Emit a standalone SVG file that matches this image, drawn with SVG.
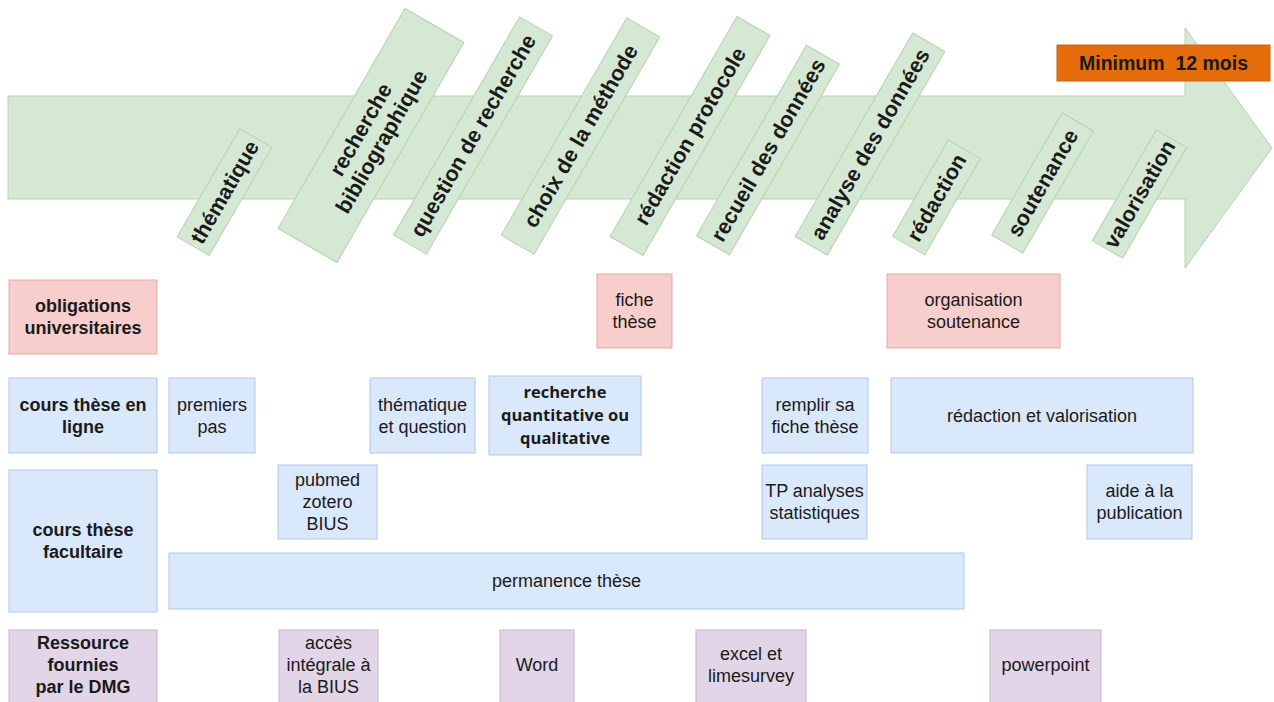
<svg xmlns="http://www.w3.org/2000/svg" width="1274" height="702" viewBox="0 0 1274 702">
<style>
text{font-family:"Liberation Sans",Arial,sans-serif;fill:#1a1a1a;text-anchor:middle}
.r{font-size:18px}
.b{font-size:18px;font-weight:bold}
.rot{font-size:21.5px;font-weight:bold}
.g{fill:#d5e8d4;stroke:#b4d4ab;stroke-width:1}
.p{fill:#f8cecc;stroke:#e3a9a7;stroke-width:1}
.bl{fill:#dae8fc;stroke:#b3c8e6;stroke-width:1}
.v{fill:#e1d5e7;stroke:#c9b3d4;stroke-width:1}
.os{font-family:"Open Sans","Liberation Sans",sans-serif;font-size:16.5px;font-weight:bold}
</style>
<rect width="1274" height="702" fill="#ffffff"/>
<g id="timeline-arrow">
<polygon class="g" points="8,96 1185,96 1185,28 1272,148 1185,268 1185,199 8,199"/>
</g>
<g id="duration">
<rect x="1057" y="45" width="213" height="36" fill="#e46c0a" stroke="#d0620a"/>
<text x="1163.5" y="70" style="font-size:19.5px;font-weight:bold;white-space:pre">Minimum  12 mois</text>
</g>
<g id="step-thematique" transform="translate(224.5,192) rotate(-60)">
<rect class="g" x="-62.5" y="-18.5" width="125" height="37"/>
<text class="rot" y="7.5">thématique</text>
</g>
<g id="step-biblio" transform="translate(371,135.5) rotate(-60)">
<rect class="g" x="-127" y="-34" width="254" height="68"/>
<text class="rot" y="-4.5">recherche</text>
<text class="rot" y="19.5">bibliographique</text>
</g>
<g id="step-question" transform="translate(473,135.5) rotate(-60)">
<rect class="g" x="-126" y="-19" width="252" height="38"/>
<text class="rot" y="7.5">question de recherche</text>
</g>
<g id="step-methode" transform="translate(580.5,136) rotate(-60)">
<rect class="g" x="-125.5" y="-19" width="251" height="38"/>
<text class="rot" y="7.5">choix de la méthode</text>
</g>
<g id="step-protocole" transform="translate(690,136) rotate(-60)">
<rect class="g" x="-127" y="-19" width="254" height="38"/>
<text class="rot" y="7.5">rédaction protocole</text>
</g>
<g id="step-recueil" transform="translate(768,150) rotate(-60)">
<rect class="g" x="-110" y="-19" width="220" height="38"/>
<text class="rot" y="7.5">recueil des données</text>
</g>
<g id="step-analyse" transform="translate(870,144) rotate(-60)">
<rect class="g" x="-117.5" y="-18.5" width="235" height="37"/>
<text class="rot" y="7.5">analyse des données</text>
</g>
<g id="step-redaction" transform="translate(936.5,197.5) rotate(-60)">
<rect class="g" x="-55.5" y="-18.5" width="111" height="37"/>
<text class="rot" y="7.5">rédaction</text>
</g>
<g id="step-soutenance" transform="translate(1042.5,183) rotate(-60)">
<rect class="g" x="-70.5" y="-18" width="141" height="36"/>
<text class="rot" y="7.5">soutenance</text>
</g>
<g id="step-valorisation" transform="translate(1139.5,194) rotate(-60)">
<rect class="g" x="-64" y="-17.5" width="128" height="35"/>
<text class="rot" y="7.5">valorisation</text>
</g>
<g id="obligations">
<rect class="p" x="9" y="280" width="148" height="74"/>
<text class="b" x="83" y="312">obligations</text>
<text class="b" x="83" y="334">universitaires</text>
</g>
<g id="fiche-these">
<rect class="p" x="597" y="274" width="75" height="74"/>
<text class="r" x="634.5" y="306">fiche</text>
<text class="r" x="634.5" y="328">thèse</text>
</g>
<g id="organisation-soutenance">
<rect class="p" x="887" y="274" width="173" height="74"/>
<text class="r" x="973.5" y="306">organisation</text>
<text class="r" x="973.5" y="328">soutenance</text>
</g>
<g id="cours-en-ligne">
<rect class="bl" x="9" y="378" width="148" height="75"/>
<text class="b" x="83" y="410.5">cours thèse en</text>
<text class="b" x="83" y="432.5">ligne</text>
</g>
<g id="premiers-pas">
<rect class="bl" x="169" y="378" width="86" height="75"/>
<text class="r" x="212" y="410.5">premiers</text>
<text class="r" x="212" y="432.5">pas</text>
</g>
<g id="thematique-question">
<rect class="bl" x="370" y="378" width="105" height="75"/>
<text class="r" x="422.5" y="410.5">thématique</text>
<text class="r" x="422.5" y="432.5">et question</text>
</g>
<g id="quanti-quali">
<rect class="bl" x="489" y="376" width="152" height="79"/>
<text class="os" x="565" y="398">recherche</text>
<text class="os" x="565" y="421">quantitative ou</text>
<text class="os" x="565" y="444">qualitative</text>
</g>
<g id="remplir-fiche">
<rect class="bl" x="762" y="378" width="106" height="75"/>
<text class="r" x="815" y="410.5">remplir sa</text>
<text class="r" x="815" y="432.5">fiche thèse</text>
</g>
<g id="redaction-valorisation">
<rect class="bl" x="891" y="378" width="302" height="75"/>
<text class="r" x="1042" y="421.5">rédaction et valorisation</text>
</g>
<g id="cours-facultaire">
<rect class="bl" x="9" y="470" width="148" height="142"/>
<text class="b" x="83" y="536">cours thèse</text>
<text class="b" x="83" y="558">facultaire</text>
</g>
<g id="pubmed">
<rect class="bl" x="278" y="465" width="99" height="74"/>
<text class="r" x="327.5" y="486">pubmed</text>
<text class="r" x="327.5" y="508">zotero</text>
<text class="r" x="327.5" y="530">BIUS</text>
</g>
<g id="tp-stats">
<rect class="bl" x="762" y="465" width="105" height="74"/>
<text class="r" x="814.5" y="497">TP analyses</text>
<text class="r" x="814.5" y="519">statistiques</text>
</g>
<g id="aide-publication">
<rect class="bl" x="1087" y="465" width="105" height="74"/>
<text class="r" x="1139.5" y="497">aide à la</text>
<text class="r" x="1139.5" y="519">publication</text>
</g>
<g id="permanence">
<rect class="bl" x="169" y="553" width="795" height="56"/>
<text class="r" x="566.5" y="587">permanence thèse</text>
</g>
<g id="ressources">
<rect class="v" x="9" y="630" width="148" height="76"/>
<text class="b" x="83" y="649">Ressource</text>
<text class="b" x="83" y="671">fournies</text>
<text class="b" x="83" y="693">par le DMG</text>
</g>
<g id="acces-bius">
<rect class="v" x="279" y="630" width="99" height="76"/>
<text class="r" x="328.5" y="649">accès</text>
<text class="r" x="328.5" y="671">intégrale à</text>
<text class="r" x="328.5" y="693">la BIUS</text>
</g>
<g id="word">
<rect class="v" x="500" y="630" width="74" height="76"/>
<text class="r" x="537" y="671">Word</text>
</g>
<g id="excel">
<rect class="v" x="696" y="630" width="110" height="76"/>
<text class="r" x="751" y="660">excel et</text>
<text class="r" x="751" y="682">limesurvey</text>
</g>
<g id="powerpoint">
<rect class="v" x="990" y="630" width="111" height="76"/>
<text class="r" x="1045.5" y="671">powerpoint</text>
</g>
<g id="connectors"/>
</svg>
